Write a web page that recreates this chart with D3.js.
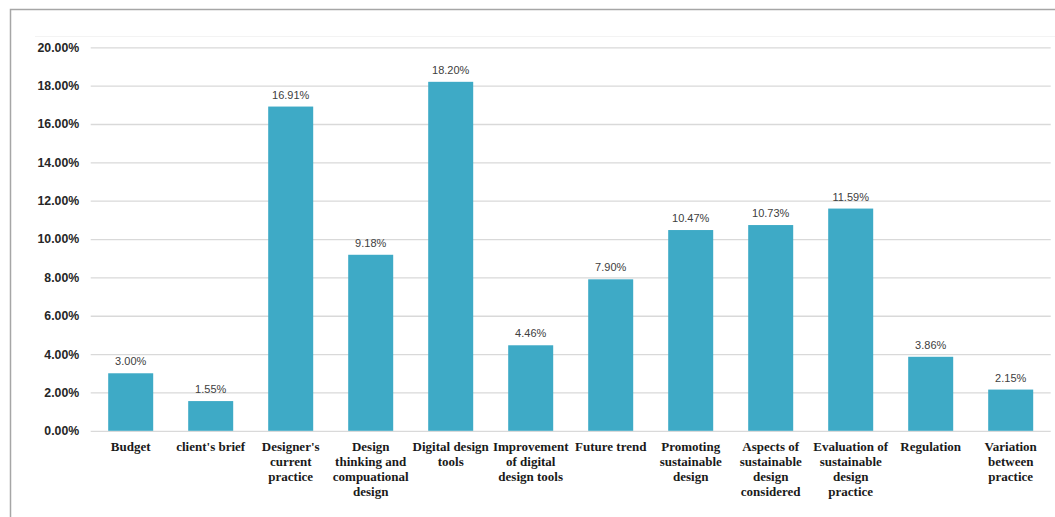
<!DOCTYPE html>
<html>
<head>
<meta charset="utf-8">
<script src="https://cdn.jsdelivr.net/npm/d3@7"></script>
<style>
  html, body { margin: 0; padding: 0; background: #fff; }
  svg { display: block; }
</style>
</head>
<body>
<svg id="chart" width="1055" height="517"></svg>
<script>
const categories = [
  "Budget",
  "client's brief",
  "Designer's\ncurrent\npractice",
  "Design\nthinking and\ncompuational\ndesign",
  "Digital design\ntools",
  "Improvement\nof digital\ndesign tools",
  "Future trend",
  "Promoting\nsustainable\ndesign",
  "Aspects of\nsustainable\ndesign\nconsidered",
  "Evaluation of\nsustainable\ndesign\npractice",
  "Regulation",
  "Variation\nbetween\npractice"
];
const values = [3.00, 1.55, 16.91, 9.18, 18.20, 4.46, 7.90, 10.47, 10.73, 11.59, 3.86, 2.15];
const yTicks = [0, 2, 4, 6, 8, 10, 12, 14, 16, 18, 20];

(function () {
const svg = d3.select("#chart");
const W = 1055, H = 517;
const mLeft = 90.7, mRight = 1050.7, mTop = 47.3, mBottom = 430.8;

// outer frame
svg.append("path")
  .attr("d", `M10.5,${H + 2} L10.5,9.5 L${W + 2},9.5`)
  .attr("fill", "none").attr("stroke", "#a6a6a6").attr("stroke-width", 1.5);
// faint plot-area line
svg.append("line").attr("x1", 35).attr("x2", W).attr("y1", 36.5).attr("y2", 36.5)
  .attr("stroke", "#f3f3f3").attr("stroke-width", 1);

const x = d3.scaleBand().domain(categories).range([mLeft, mRight]).paddingInner(0.4375).paddingOuter(0.21875);
const y = d3.scaleLinear().domain([0, 20]).range([mBottom, mTop]);

// gridlines
const yAxis = d3.axisLeft(y).tickValues(yTicks).tickSize(-(mRight - mLeft)).tickFormat(d => d.toFixed(2) + "%");
const gy = svg.append("g").attr("transform", `translate(${mLeft},0)`).call(yAxis);
gy.select(".domain").remove();
gy.selectAll(".tick line").attr("stroke", "#d9d9d9").attr("stroke-width", 1.3);
gy.selectAll(".tick text")
  .attr("x", -11.5)
  .attr("font-family", "'Liberation Sans', Arial, sans-serif")
  .attr("font-size", 12.3).attr("font-weight", "bold").attr("fill", "#262626");

// bars
svg.append("g").selectAll("rect").data(values).join("rect")
  .attr("x", (d, i) => x(categories[i]))
  .attr("width", x.bandwidth())
  .attr("y", d => y(d))
  .attr("height", d => y(0) - y(d))
  .attr("fill", "#3eaac6");

// value labels
svg.append("g").selectAll("text").data(values).join("text")
  .attr("x", (d, i) => x(categories[i]) + x.bandwidth() / 2)
  .attr("y", d => y(d) - 8)
  .attr("text-anchor", "middle")
  .attr("font-family", "'Liberation Sans', Arial, sans-serif")
  .attr("font-size", 11).attr("fill", "#404040")
  .text(d => d.toFixed(2) + "%");

// x axis labels
const xAxis = d3.axisBottom(x).tickSize(0).tickFormat("");
const gx = svg.append("g").attr("transform", `translate(0,${mBottom})`).call(xAxis);
gx.select(".domain").remove();
gx.selectAll(".tick").each(function(d) {
  const t = d3.select(this).append("text")
    .attr("text-anchor", "middle")
    .attr("font-family", "'Liberation Serif', 'Times New Roman', serif")
    .attr("font-size", 13).attr("font-weight", "bold").attr("fill", "#1a1a1a");
  d.split("\n").forEach((line, i) => {
    t.append("tspan").attr("x", 0).attr("y", 20 + i * 15.2).text(line);
  });
});
})();
</script>
</body>
</html>
